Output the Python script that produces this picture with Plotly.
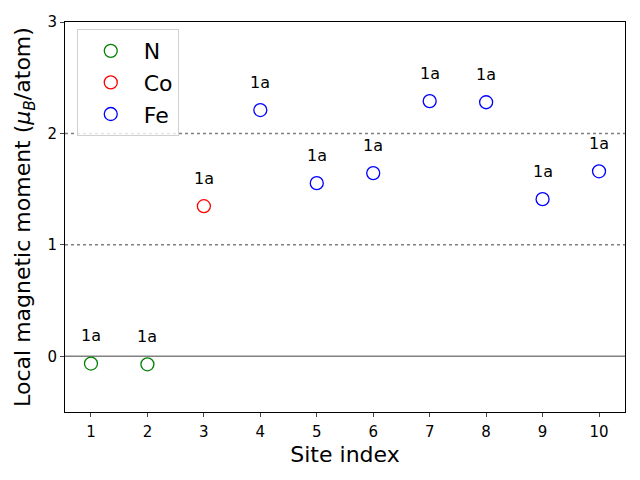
import plotly.graph_objects as go

sites_N = [1, 2]
moments_N = [-0.065, -0.072]
sites_Co = [3]
moments_Co = [1.347]
sites_Fe = [4, 5, 6, 7, 8, 9, 10]
moments_Fe = [2.21, 1.554, 1.644, 2.29, 2.28, 1.41, 1.66]
wyckoff = ["1a"] * 10
x_ticks = list(range(1, 11))
y_ticks = [0, 1, 2, 3]

series = [("N", sites_N, moments_N, "green"),
          ("Co", sites_Co, moments_Co, "red"),
          ("Fe", sites_Fe, moments_Fe, "blue")]

fig = go.Figure()
for name, xs, ys, col in series:
    fig.add_trace(go.Scatter(
        x=xs, y=ys, mode="markers", name=name,
        marker=dict(symbol="circle-open", size=13, color=col, line=dict(width=1.3, color=col)),
    ))

all_x = sites_N + sites_Co + sites_Fe
all_y = moments_N + moments_Co + moments_Fe
for xi, yi, lab in zip(all_x, all_y, wyckoff):
    fig.add_annotation(x=xi, y=yi, text=lab, showarrow=False, yshift=28,
                       font=dict(size=16, color="black", family="DejaVu Sans"))

fig.add_hline(y=0, line=dict(color="gray", width=1.5), layer="below")
for yl in [1, 2]:
    fig.add_hline(y=yl, line=dict(color="gray", width=1.5, dash="dot"), layer="below")

fig.update_layout(
    width=640, height=480,
    margin=dict(l=57, r=23, t=14, b=76, autoexpand=False),
    plot_bgcolor="white", paper_bgcolor="white",
    font=dict(family="DejaVu Sans", size=14, color="black"),
    legend=dict(x=0.021, y=0.982, xanchor="left", yanchor="top",
                bgcolor="rgba(255,255,255,0.8)", bordercolor="#d0d0d0", borderwidth=1,
                font=dict(size=22), itemwidth=56, tracegroupgap=0),
    showlegend=True,
)
fig.update_xaxes(range=[0.54, 10.46], tickvals=x_ticks, ticks="outside", ticklen=4,
                 showgrid=False, zeroline=False, showline=True, linecolor="black", mirror=True,
                 automargin=False, ticklabelstandoff=2,
                 title=dict(text="Site index", font=dict(size=22), standoff=6),
                 tickfont=dict(size=15))
fig.update_yaxes(range=[-0.5, 3], tickvals=y_ticks, ticks="outside", ticklen=4,
                 showgrid=False, zeroline=False, showline=True, linecolor="black", mirror=True,
                 automargin=False,
                 title=dict(text="Local magnetic moment (<i>μ</i><sub><i>B</i></sub>/atom)", font=dict(size=22), standoff=10),
                 tickfont=dict(size=15))

fig.write_html("out.html")
